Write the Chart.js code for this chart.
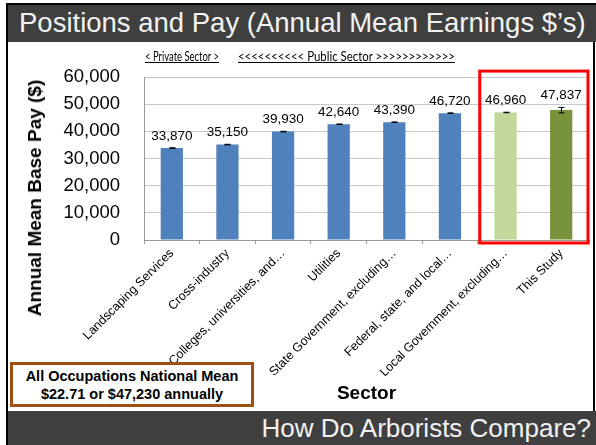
<!DOCTYPE html>
<html>
<head>
<meta charset="utf-8">
<script src="https://cdn.jsdelivr.net/npm/chart.js@4"></script>
<style>
  html, body { margin: 0; padding: 0; background: #fff; }
  #slide { position: relative; width: 596px; height: 445px; overflow: hidden; font-family: "Liberation Sans", Arial, sans-serif; }
  .frame-left { position: absolute; left: 6px; top: 4px; width: 2px; height: 441px; background: #000; }
  .frame-top { position: absolute; left: 6px; top: 3px; width: 590px; height: 2px; background: #000; }
  .frame-right { position: absolute; left: 593px; top: 42px; width: 2px; height: 369px; background: #000; }
  #header { position: absolute; left: 8px; top: 5px; width: 588px; height: 37px; background: #3f3f3f; }
  #header span { position: absolute; left: 11px; top: 2px; color: #f2f2f2; font-size: 27.5px; white-space: nowrap; }
  #footer { position: absolute; left: 8px; top: 411px; width: 588px; height: 34px; background: #3f3f3f; }
  #footer span { position: absolute; right: 5px; top: 2px; color: #f2f2f2; font-size: 26px; white-space: nowrap; }
  .sector-label { position: absolute; top: 47px; font-family: Lato, "Open Sans", sans-serif; font-size: 14px; text-decoration: underline; white-space: nowrap; color: #000; transform-origin: 0 50%; }
  #yTitle { position: absolute; left: 35px; top: 198px; transform: translate(-50%, -50%) rotate(-90deg); font-weight: bold; font-size: 19px; white-space: nowrap; }
  #meanBox { position: absolute; left: 10px; top: 362px; width: 238px; height: 37px; border: 3px solid #9c5012; background: #fff; text-align: center; font-weight: bold; font-size: 14.5px; line-height: 18px; padding-top: 2px; }
  #chartWrap { position: absolute; left: 8px; top: 42px; width: 585px; height: 369px; }
</style>
</head>
<body>
<div id="slide">
  <div id="chartWrap"><canvas id="payChart"></canvas></div>
  <div id="header"><span>Positions and Pay (Annual Mean Earnings $’s)</span></div>
  <div class="frame-top"></div>
  <div class="frame-left"></div>
  <div class="frame-right"></div>
  <div class="sector-label" style="left:145px" data-width="74">&lt; Private Sector &gt;</div>
  <div class="sector-label" style="left:238px" data-width="217">&lt;&lt;&lt;&lt;&lt;&lt;&lt;&lt;&lt;&lt; Public Sector &gt;&gt;&gt;&gt;&gt;&gt;&gt;&gt;&gt;&gt;&gt;&gt;</div>
  <div id="yTitle">Annual Mean Base Pay ($)</div>
  <div id="meanBox">All Occupations National Mean<br>$22.71 or $47,230 annually</div>
  <div id="footer"><span>How Do Arborists Compare?</span></div>
</div>
<script>
const categories = [
  "Landscaping Services",
  "Cross-industry",
  "Colleges, universities, and…",
  "Utilities",
  "State Government, excluding…",
  "Federal, state, and local…",
  "Local Government, excluding…",
  "This Study",
];
const meanPay = [33870, 35150, 39930, 42640, 43390, 46720, 46960, 47837];
const payError = [100, 100, 100, 100, 100, 100, 100, 1000];
const barColors = ["#4f81bd", "#4f81bd", "#4f81bd", "#4f81bd", "#4f81bd", "#4f81bd", "#c3d69b", "#77933c"];
const yTicks = [0, 10000, 20000, 30000, 40000, 50000, 60000];

const FONT = "'Liberation Sans', Arial, sans-serif";

// the slide used a narrow font for these, so squeeze to the original width
document.querySelectorAll(".sector-label").forEach((el) => {
  const w = el.getBoundingClientRect().width;
  el.style.transform = `scaleX(${Number(el.dataset.width) / w})`;
});

// error bars, value labels and the red highlight box
const extrasPlugin = {
  id: "extras",
  afterDatasetsDraw(chart) {
    const ctx = chart.ctx;
    const x = chart.scales.x;
    const y = chart.scales.y;
    ctx.save();

    ctx.strokeStyle = "#000";
    ctx.lineWidth = 1;
    meanPay.forEach((v, i) => {
      const cx = Math.round(x.getPixelForValue(i)) + 0.5;
      const top = y.getPixelForValue(v + payError[i]);
      const bot = y.getPixelForValue(v - payError[i]);
      ctx.beginPath();
      ctx.moveTo(cx, top);
      ctx.lineTo(cx, bot);
      ctx.moveTo(cx - 3, top);
      ctx.lineTo(cx + 3, top);
      ctx.moveTo(cx - 3, bot);
      ctx.lineTo(cx + 3, bot);
      ctx.stroke();
    });

    ctx.fillStyle = "#000";
    ctx.font = "13.5px " + FONT;
    ctx.textAlign = "center";
    ctx.textBaseline = "bottom";
    meanPay.forEach((v, i) => {
      const cx = x.getPixelForValue(i);
      const top = y.getPixelForValue(v + payError[i]);
      ctx.fillText(v.toLocaleString("en-US"), cx, top - 5);
    });

    const half = (x.getPixelForValue(1) - x.getPixelForValue(0)) / 2;
    const left = x.getPixelForValue(6) - half + 2;
    const right = x.getPixelForValue(7) + half - 1;
    ctx.strokeStyle = "#ff0000";
    ctx.lineWidth = 3;
    ctx.strokeRect(left, chart.chartArea.top - 6, right - left, chart.chartArea.bottom - chart.chartArea.top + 9);
    ctx.restore();
  },
};

new Chart(document.getElementById("payChart"), {
  type: "bar",
  data: {
    labels: categories,
    datasets: [
      {
        data: meanPay,
        backgroundColor: barColors,
        barPercentage: 0.4,
        categoryPercentage: 1,
      },
    ],
  },
  options: {
    responsive: true,
    maintainAspectRatio: false,
    animation: false,
    layout: { padding: { top: 33, right: 4, left: 0, bottom: 0 } },
    plugins: {
      legend: { display: false },
      tooltip: { enabled: false },
    },
    scales: {
      x: {
        grid: {
          display: true,
          drawOnChartArea: false,
          drawTicks: true,
          tickLength: 4,
          offset: true,
          color: "#999",
        },
        border: { color: "#999" },
        ticks: {
          color: "#000",
          font: { family: FONT, size: 12.5 },
          minRotation: 45,
          maxRotation: 45,
          autoSkip: false,
          padding: 2,
        },
        title: {
          display: true,
          text: "Sector",
          color: "#000",
          font: { family: FONT, size: 19, weight: "bold" },
          padding: { top: 0, bottom: 6 },
        },
        afterFit(scale) {
          scale.height = 171;
        },
      },
      y: {
        min: 0,
        max: 60000,
        afterBuildTicks(scale) {
          scale.ticks = yTicks.map((v) => ({ value: v }));
        },
        grid: { color: "#c8c8c8", drawTicks: false },
        border: { color: "#999" },
        ticks: {
          color: "#000",
          font: { family: FONT, size: 18.5 },
          padding: 24,
          callback: (v) => v.toLocaleString("en-US"),
        },
        afterFit(scale) {
          scale.width = 136;
        },
      },
    },
  },
  plugins: [extrasPlugin],
});
</script>
</body>
</html>
